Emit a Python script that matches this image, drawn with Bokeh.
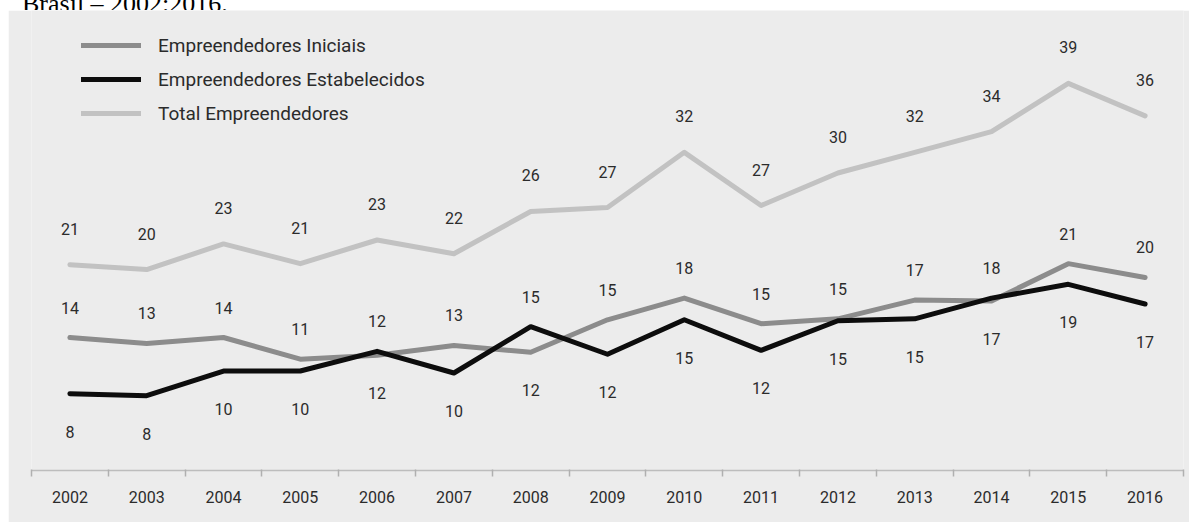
import numpy as np
from bokeh.plotting import figure
from bokeh.layouts import column, row
from bokeh.models import (Range1d, FixedTicker, Legend, LegendItem, ColumnDataSource, Div, Spacer)
from bokeh.core.properties import value
from bokeh.embed import file_html
from bokeh.resources import INLINE

years = list(range(2002, 2017))
iniciais = [13.5, 12.9, 13.5, 11.3, 11.7, 12.7, 12.0, 15.3, 17.5, 14.9, 15.4, 17.3, 17.2, 21.0, 19.6]
estabelecidos = [7.8, 7.6, 10.1, 10.1, 12.1, 9.9, 14.6, 11.8, 15.3, 12.2, 15.2, 15.4, 17.5, 18.9, 16.9]
total = [20.9, 20.4, 23.0, 21.0, 23.4, 22.0, 26.3, 26.7, 32.3, 26.9, 30.2, 32.3, 34.4, 39.3, 36.0]

lab_iniciais = ["14", "13", "14", "11", "12", "13", "12", "15", "18", "15", "15", "17", "17", "21", "20"]
lab_estabelecidos = ["8", "8", "10", "10", "12", "10", "15", "12", "15", "12", "15", "15", "18", "19", "17"]
lab_total = ["21", "20", "23", "21", "23", "22", "26", "27", "32", "27", "30", "32", "34", "39", "36"]

series_names = ["Empreendedores Iniciais", "Empreendedores Estabelecidos", "Total Empreendedores"]
caption = "Brasil – 2002:2016."

BG = "#ececec"
C_INI = "#8c8c8c"
C_EST = "#0d0d0d"
C_TOT = "#c2c2c2"
TXT = "#2b2b2b"
FONT = "Roboto"

p = figure(width=1181, height=512, output_backend="svg", toolbar_location=None,
           x_range=Range1d(2001.5, 2016.5), y_range=Range1d(0, 46.7),
           min_border_left=23, min_border_right=6, min_border_top=0, min_border_bottom=52)
p.background_fill_color = BG
p.border_fill_color = BG
p.outline_line_color = None
p.grid.visible = False
p.yaxis.visible = False

xa = p.xaxis[0]
xa.ticker = FixedTicker(ticks=years, minor_ticks=[y - 0.5 for y in years] + [years[-1] + 0.5])
xa.axis_line_color = "#bdbdbd"
xa.axis_line_width = 1.5
xa.major_tick_line_color = None
xa.major_tick_out = 0
xa.major_tick_in = 0
xa.minor_tick_line_color = "#b0b0b0"
xa.minor_tick_line_width = 1.5
xa.minor_tick_out = 6
xa.minor_tick_in = 1
xa.major_label_standoff = 14
xa.major_label_text_font = FONT
xa.major_label_text_font_size = "16px"
xa.major_label_text_color = TXT

r_ini = p.line(years, iniciais, line_color=C_INI, line_width=5, line_join="round", line_cap="round")
r_est = p.line(years, estabelecidos, line_color=C_EST, line_width=5, line_join="round", line_cap="round")
r_tot = p.line(years, total, line_color=C_TOT, line_width=5, line_join="round", line_cap="round")

ini_arr = np.array(iniciais)
est_arr = np.array(estabelecidos)
ini_up = ini_arr >= est_arr
ABOVE, BELOW = -30, 38
ini_off = [ABOVE if u else BELOW for u in ini_up]
est_off = [BELOW if u else ABOVE for u in ini_up]

def add_labels(vals, labs, offs):
    src = ColumnDataSource(dict(x=years, y=vals, t=labs, off=offs))
    p.text(x="x", y="y", text="t", y_offset="off", source=src,
           text_align="center", text_baseline="middle",
           text_font=value(FONT), text_font_size="16px", text_color=TXT)

add_labels(total, lab_total, [-36] * len(years))
add_labels(iniciais, lab_iniciais, ini_off)
add_labels(estabelecidos, lab_estabelecidos, est_off)

legend = Legend(items=[LegendItem(label=series_names[0], renderers=[r_ini]),
                       LegendItem(label=series_names[1], renderers=[r_est]),
                       LegendItem(label=series_names[2], renderers=[r_tot])],
                location=(50, 342), orientation="vertical")
legend.background_fill_alpha = 0
legend.border_line_color = None
legend.padding = 20
legend.margin = 0
legend.spacing = 4
legend.glyph_width = 60
legend.glyph_height = 30
legend.label_height = 30
legend.label_standoff = 17
legend.label_text_font = FONT
legend.label_text_font_size = "19px"
legend.label_text_color = TXT
p.add_layout(legend)

cap = Div(text=('<div style="font-family:\'Liberation Serif\',\'Times New Roman\',serif;'
                'font-size:26px;line-height:26px;margin-top:-14px;margin-left:22px;'
                'color:#000;white-space:nowrap">' + caption + '</div>'),
          width=1189, height=10, margin=0, styles={"overflow": "hidden"})

layout = column(cap, row(Spacer(width=8, height=512, margin=0), p, spacing=0), spacing=0)

open("out.html", "w").write(file_html(layout, INLINE))
